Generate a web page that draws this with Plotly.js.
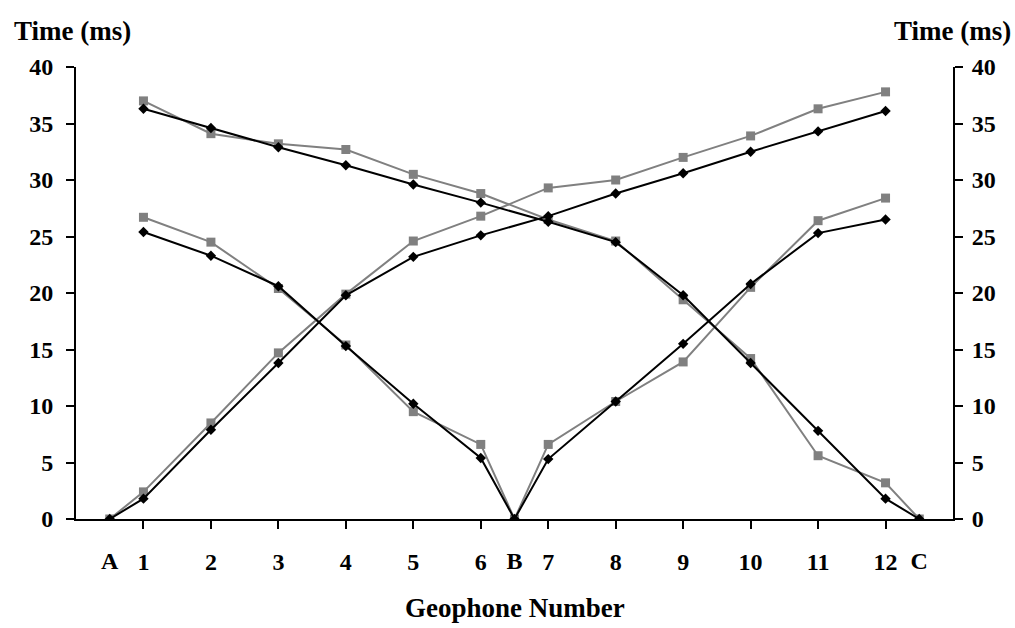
<!DOCTYPE html>
<html>
<head>
<meta charset="utf-8">
<script src="https://cdn.plot.ly/plotly-3.0.1.min.js"></script>
<style>
  html, body { margin: 0; padding: 0; background: #fff; }
  #chart { width: 1015px; height: 628px; }
</style>
</head>
<body>
<div id="chart"></div>
<script>
// Geophone positions: shot points A, B, C sit halfway between geophones
const geophoneTicks = [1, 2, 3, 4, 5, 6, 7, 8, 9, 10, 11, 12];
const geophoneLabels = ['1', '2', '3', '4', '5', '6', '7', '8', '9', '10', '11', '12'];
const shotTicks = [0.5, 6.5, 12.5];
const shotLabels = ['A', 'B', 'C'];

// Shot at A (forward): A, 1..12
const xShotA = [0.5, 1, 2, 3, 4, 5, 6, 7, 8, 9, 10, 11, 12];
const shotAMeasured = [0, 2.4, 8.5, 14.7, 19.9, 24.6, 26.8, 29.3, 30.0, 32.0, 33.9, 36.3, 37.8];
const shotACalculated = [0, 1.8, 7.9, 13.8, 19.8, 23.2, 25.1, 26.8, 28.8, 30.6, 32.5, 34.3, 36.1];

// Shot at C (reverse): 1..12, C
const xShotC = [1, 2, 3, 4, 5, 6, 7, 8, 9, 10, 11, 12, 12.5];
const shotCMeasured = [37.0, 34.1, 33.2, 32.7, 30.5, 28.8, 26.5, 24.6, 19.4, 14.2, 5.6, 3.2, 0];
const shotCCalculated = [36.3, 34.6, 32.9, 31.3, 29.6, 28.0, 26.3, 24.5, 19.8, 13.8, 7.8, 1.8, 0];

// Shot at B (centre): 1..6, B, 7..12
const xShotB = [1, 2, 3, 4, 5, 6, 6.5, 7, 8, 9, 10, 11, 12];
const shotBMeasured = [26.7, 24.5, 20.4, 15.4, 9.5, 6.6, 0, 6.6, 10.4, 13.9, 20.5, 26.4, 28.4];
const shotBCalculated = [25.4, 23.3, 20.6, 15.3, 10.2, 5.4, 0, 5.3, 10.4, 15.5, 20.8, 25.3, 26.5];

const GREY = '#808080';
const BLACK = '#000000';
const FONT = 'Liberation Serif, Times New Roman, serif';

function measured(x, y) {
  return {
    x: x, y: y, type: 'scatter', mode: 'lines+markers',
    line: { color: GREY, width: 2 },
    marker: { symbol: 'square', size: 9, color: GREY },
    showlegend: false, hoverinfo: 'x+y'
  };
}
function calculated(x, y) {
  return {
    x: x, y: y, type: 'scatter', mode: 'lines+markers',
    line: { color: BLACK, width: 2 },
    marker: { symbol: 'diamond', size: 8, color: BLACK },
    showlegend: false, hoverinfo: 'x+y'
  };
}

const traces = [
  measured(xShotA, shotAMeasured),
  measured(xShotC, shotCMeasured),
  measured(xShotB, shotBMeasured),
  calculated(xShotA, shotACalculated),
  calculated(xShotC, shotCCalculated),
  calculated(xShotB, shotBCalculated),
  // empty trace so the right-hand time axis is laid out
  { x: [], y: [], xaxis: 'x2', yaxis: 'y2', type: 'scatter', showlegend: false }
];

const tickFont = { family: FONT, size: 24, color: '#000', weight: 'bold' };
const titleFont = { family: FONT, size: 27, color: '#000', weight: 'bold' };

const layout = {
  width: 1015, height: 628,
  margin: { l: 76, r: 62, t: 67, b: 109 },
  paper_bgcolor: '#fff', plot_bgcolor: '#fff',
  xaxis: {
    range: [0, 13], tickmode: 'array', tickvals: geophoneTicks, ticktext: geophoneLabels,
    ticks: 'outside', ticklen: 8, tickwidth: 2, tickcolor: '#000',
    ticklabelstandoff: 12,
    showline: true, linecolor: '#000', linewidth: 2,
    showgrid: false, zeroline: false, tickfont: tickFont
  },
  xaxis2: {
    overlaying: 'x', anchor: 'y', side: 'bottom',
    range: [0, 13], tickmode: 'array', tickvals: shotTicks, ticktext: shotLabels,
    ticks: 'outside', ticklen: 8, tickcolor: 'rgba(0,0,0,0)',
    ticklabelstandoff: 12,
    showline: false, showgrid: false, zeroline: false, tickfont: tickFont
  },
  yaxis: {
    range: [0, 40], tickmode: 'linear', tick0: 0, dtick: 5,
    ticks: 'outside', ticklen: 8, tickwidth: 2, tickcolor: '#000',
    ticklabelstandoff: 8,
    showline: true, linecolor: '#000', linewidth: 2,
    showgrid: false, zeroline: false, tickfont: tickFont
  },
  yaxis2: {
    overlaying: 'y', side: 'right', anchor: 'x',
    range: [0, 40], tickmode: 'linear', tick0: 0, dtick: 5,
    ticks: 'outside', ticklen: 8, tickwidth: 2, tickcolor: '#000',
    ticklabelstandoff: 4,
    showline: true, linecolor: '#000', linewidth: 2,
    showgrid: false, zeroline: false, tickfont: tickFont
  },
  annotations: [
    { text: 'Time (ms)', xref: 'paper', yref: 'paper', x: -0.073, y: 1.08,
      xanchor: 'left', yanchor: 'middle', showarrow: false, font: titleFont },
    { text: 'Time (ms)', xref: 'paper', yref: 'paper', x: 1.0684, y: 1.08,
      xanchor: 'right', yanchor: 'middle', showarrow: false, font: titleFont },
    { text: 'Geophone Number', xref: 'paper', yref: 'paper', x: 0.5, y: -0.196,
      xanchor: 'center', yanchor: 'middle', showarrow: false, font: titleFont }
  ]
};

Plotly.newPlot('chart', traces, layout, { displayModeBar: false, staticPlot: true });
</script>
</body>
</html>
